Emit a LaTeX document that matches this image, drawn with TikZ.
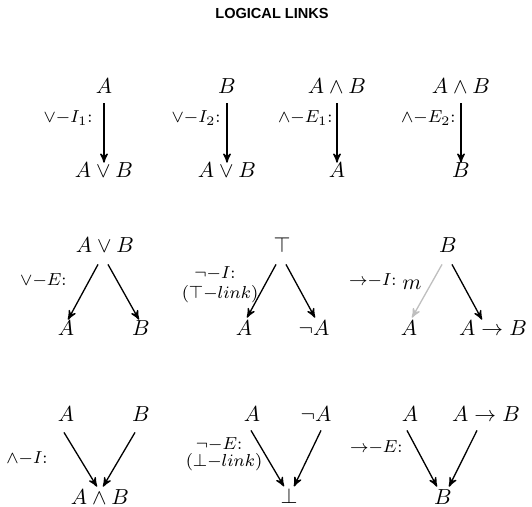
\documentclass[tikz,border=0pt]{standalone}
\usepackage{fontspec}
\usepackage{tikz}
\usetikzlibrary{arrows}
\usetikzlibrary{calc,positioning}

\newfontfamily\titlefont{Liberation Sans}

\tikzset{
    fm/.style={anchor=base, inner sep=0pt},
    rulelabel/.style={inner sep=0pt, font=\footnotesize},
    link/.style={->, >=stealth', semithick},
    hyplink/.style={link, black!25}
}

\begin{document}
\begin{tikzpicture}[x=0.46pt, y=-0.46pt]

    \useasboundingbox (0,0) rectangle (532,507);

    \node[font=\titlefont\fontsize{6.7}{8}\selectfont\bfseries] (title) at (272,13) {LOGICAL LINKS};

    % Or-intro and and-elim
    \node[fm] (orIa)  at (104,94)  {$A$};
    \node[fm] (orIac) at (104,178) {$A \vee B$};
    \node[fm] (orIb)  at (227,94)  {$B$};
    \node[fm] (orIbc) at (227,178) {$A \vee B$};
    \node[fm] (andEa)  at (337,94)  {$A \wedge B$};
    \node[fm] (andEac) at (337,178) {$A$};
    \node[fm] (andEb)  at (461,94)  {$A \wedge B$};
    \node[fm] (andEbc) at (461,178) {$B$};

    \draw[link, shorten <=4pt] (orIa.south) -- (orIac.north);
    \draw[link, shorten <=4pt] (orIb.south) -- (orIbc.north);
    \draw[link, shorten <=4pt] (andEa.south) -- (andEac.north);
    \draw[link, shorten <=4pt] (andEb.south) -- (andEbc.north);

    \node[rulelabel, anchor=east] (orIaL)  at (93,118)  {$\vee{-}I_1$:};
    \node[rulelabel, anchor=east] (orIbL)  at (221,118) {$\vee{-}I_2$:};
    \node[rulelabel, anchor=east] (andEaL) at (333,118) {$\wedge{-}E_1$:};
    \node[rulelabel, anchor=east] (andEbL) at (456,118) {$\wedge{-}E_2$:};

    % Or-elim
    \node[fm] (orE)  at (105,253) {$A \vee B$};
    \node[fm] (orEl) at (66,336)  {$A$};
    \node[fm] (orEr) at (141,336) {$B$};
    \draw[link] ($(orE.south)+(-7,11)$) -- ($(orEl.north)+(2,-1)$);
    \draw[link] ($(orE.south)+(3,11)$) -- ($(orEr.north)+(-2,-1)$);
    \node[rulelabel, anchor=east] (orEL) at (67,280) {$\vee{-}E$:};

    % Not-intro
    \node[rulelabel] (notIL)  at (215,273) {$\neg{-}I$:};
    \node[rulelabel] (notILb) at (220,294) {$(\top{-}link)$};
    \node[fm] (notI)  at (282,253) {$\top$};
    \node[fm] (notIl) at (244,336) {$A$};
    \node[fm] (notIr) at (314,336) {$\neg A$};
    \draw[link] ($(notI.south)+(-6,11)$) -- ($(notIl.north)+(3,-3)$);
    \draw[link] ($(notI.south)+(4,11)$) -- ($(notIr.north)+(1,-3)$);

    % Implies-intro
    \node[fm] (impI)  at (448,253) {$B$};
    \node[fm] (impIl) at (409,336) {$A$};
    \node[fm] (impIr) at (493,336) {$A \rightarrow B$};
    \draw[hyplink] ($(impI.south)+(-6,11)$) -- ($(impIl.north)+(3,-3)$);
    \draw[link] ($(impI.south)+(4,11)$) -- ($(impIr.north)+(-11,-1)$);
    \node[rulelabel, anchor=east] (impIL) at (397,280) {${\rightarrow}{-}I$:};
    \node[fm] (hypm) at (412,290) {$m$};

    % And-intro
    \node[fm] (andIl) at (66,422)  {$A$};
    \node[fm] (andIr) at (141,422) {$B$};
    \node[fm] (andI)  at (100,504) {$A \wedge B$};
    \draw[link] ($(andIl.south)+(-2,10)$) -- ($(andI.north)+(-3,-2)$);
    \draw[link] ($(andIr.south)+(-6,10)$) -- ($(andI.north)+(3,-2)$);
    \node[rulelabel, anchor=east] (andIL) at (48,458) {$\wedge{-}I$:};

    % Not-elim
    \node[rulelabel] (notEL)  at (219,444) {$\neg{-}E$:};
    \node[rulelabel] (notELb) at (224,462) {$(\bot{-}link)$};
    \node[fm] (notEl) at (252,422) {$A$};
    \node[fm] (notEr) at (316,422) {$\neg A$};
    \node[fm] (notE)  at (289,503) {$\bot$};
    \draw[link] ($(notEl.south)+(-1,8)$) -- ($(notE.north)+(-5,-1)$);
    \draw[link] ($(notEr.south)+(5,8)$) -- ($(notE.north)+(5,-1)$);

    % Implies-elim
    \node[fm] (impEl) at (410,422) {$A$};
    \node[fm] (impEr) at (486,422) {$A \rightarrow B$};
    \node[fm] (impE)  at (443,504) {$B$};
    \draw[link] ($(impEl.south)+(-3,8)$) -- ($(impE.north)+(-6,-2)$);
    \draw[link] ($(impEr.south)+(-9,8)$) -- ($(impE.north)+(6,-2)$);
    \node[rulelabel, anchor=east] (impEL) at (403,447) {${\rightarrow}{-}E$:};

\end{tikzpicture}
\end{document}
